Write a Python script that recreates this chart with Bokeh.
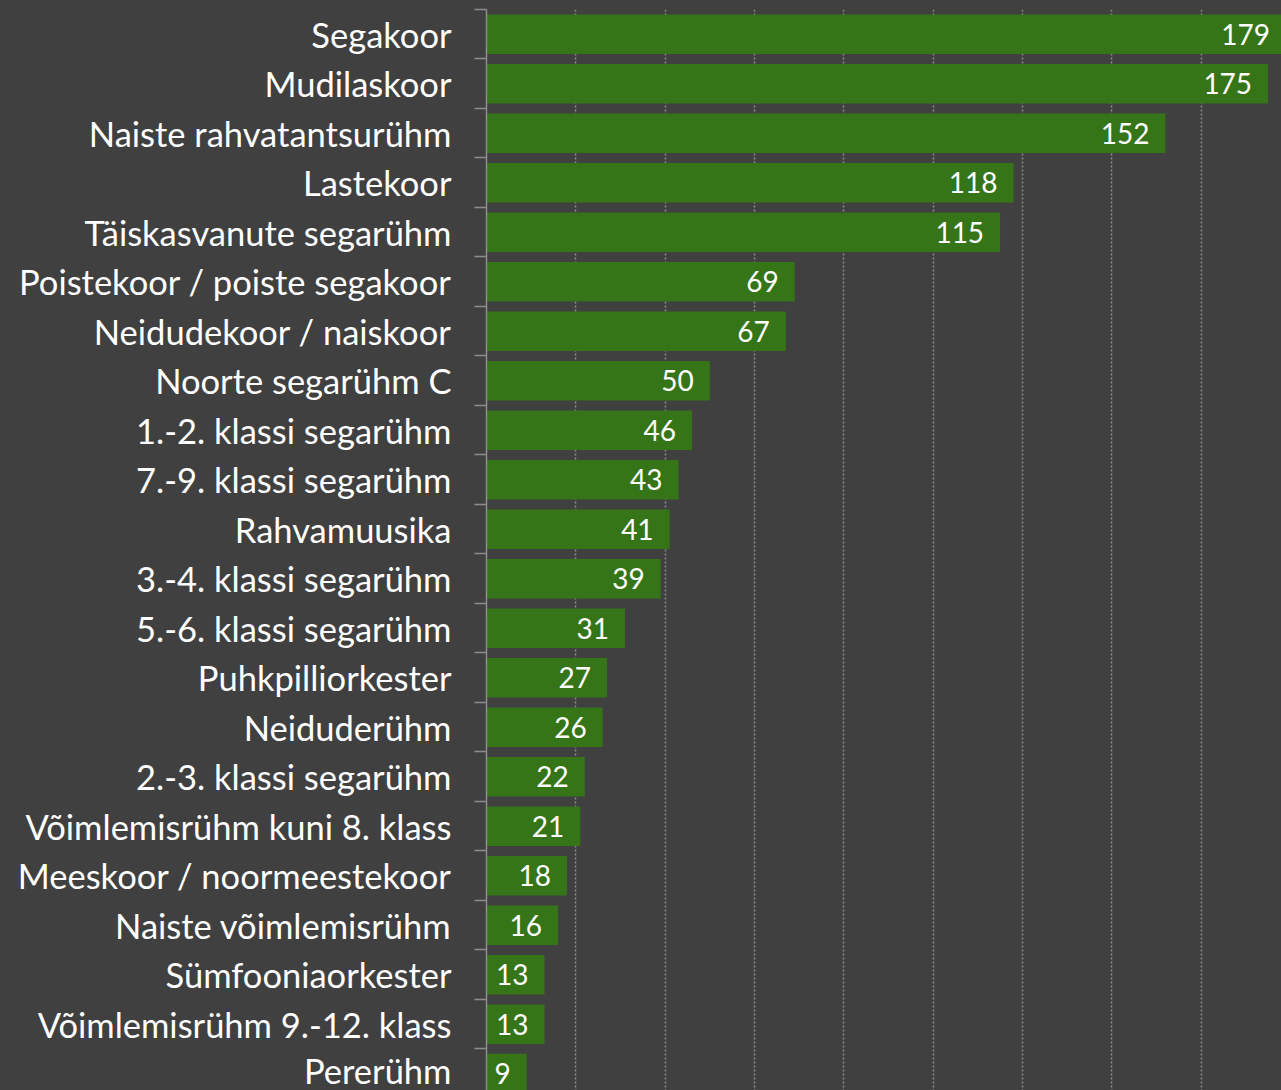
from bokeh.plotting import figure
from bokeh.models import Range1d, FixedTicker, Grid, ColumnDataSource, LabelSet
from bokeh.core.properties import value
from bokeh.embed import file_html
from bokeh.resources import INLINE

categories = [
    "Segakoor", "Mudilaskoor", "Naiste rahvatantsurühm", "Lastekoor",
    "Täiskasvanute segarühm", "Poistekoor / poiste segakoor",
    "Neidudekoor / naiskoor", "Noorte segarühm C", "1.-2. klassi segarühm",
    "7.-9. klassi segarühm", "Rahvamuusika", "3.-4. klassi segarühm",
    "5.-6. klassi segarühm", "Puhkpilliorkester", "Neiduderühm",
    "2.-3. klassi segarühm", "Võimlemisrühm kuni 8. klass",
    "Meeskoor / noormeestekoor", "Naiste võimlemisrühm", "Sümfooniaorkester",
    "Võimlemisrühm 9.-12. klass", "Pererühm",
]
values = [179, 175, 152, 118, 115, 69, 67, 50, 46, 43, 41, 39, 31, 27, 26,
          22, 21, 18, 16, 13, 13, 9]
x_grid_values = [20, 40, 60, 80, 100, 120, 140, 160]

BG = "#404040"
BAR = "#367517"
AXIS = "#8c8c8c"
FONT = "Lato"

n = len(categories)
pos = list(range(n))
source = ColumnDataSource(dict(
    y=pos, value=values, label=[str(v) for v in values], cat=categories))

p = figure(width=1281, height=1090, output_backend="svg", toolbar_location=None,
           x_range=Range1d(0, 178), y_range=Range1d(21.34, -0.5),
           x_axis_location=None, min_border_left=486, min_border_right=0,
           min_border_top=9, min_border_bottom=0)
p.background_fill_color = BG
p.border_fill_color = BG
p.outline_line_color = None
for g in p.grid:
    g.grid_line_color = None

grid = Grid(dimension=0, ticker=FixedTicker(ticks=x_grid_values),
            grid_line_color=AXIS, grid_line_width=1.5, grid_line_dash="2 2")
p.add_layout(grid, "center")

p.hbar(y="y", left=0, right="value", height=0.8, source=source,
       fill_color=BAR, line_color=None)

ya = p.yaxis[0]
ya.ticker = FixedTicker(ticks=pos, minor_ticks=[i - 0.5 for i in range(n + 1)])
ya.major_label_overrides = {i: c for i, c in zip(pos, categories)}
ya.axis_line_color = AXIS
ya.axis_line_width = 1.5
ya.major_tick_line_color = None
ya.major_tick_out = 0
ya.major_tick_in = 0
ya.minor_tick_line_color = AXIS
ya.minor_tick_line_width = 1.5
ya.minor_tick_out = 12
ya.minor_tick_in = 0
ya.major_label_standoff = 23
ya.major_label_text_color = "white"
ya.major_label_text_font = FONT
ya.major_label_text_font_size = "34.5px"

labels = LabelSet(x="value", y="y", text="label", source=source,
                  x_offset=-16, text_align="right", text_baseline="middle",
                  text_color="white", text_font=value(FONT),
                  text_font_size="28px")
p.add_layout(labels)

html = file_html(p, INLINE)
html = html.replace("</head>", "<style>html,body{background:#404040;}</style></head>", 1)
open("out.html", "w").write(html)
